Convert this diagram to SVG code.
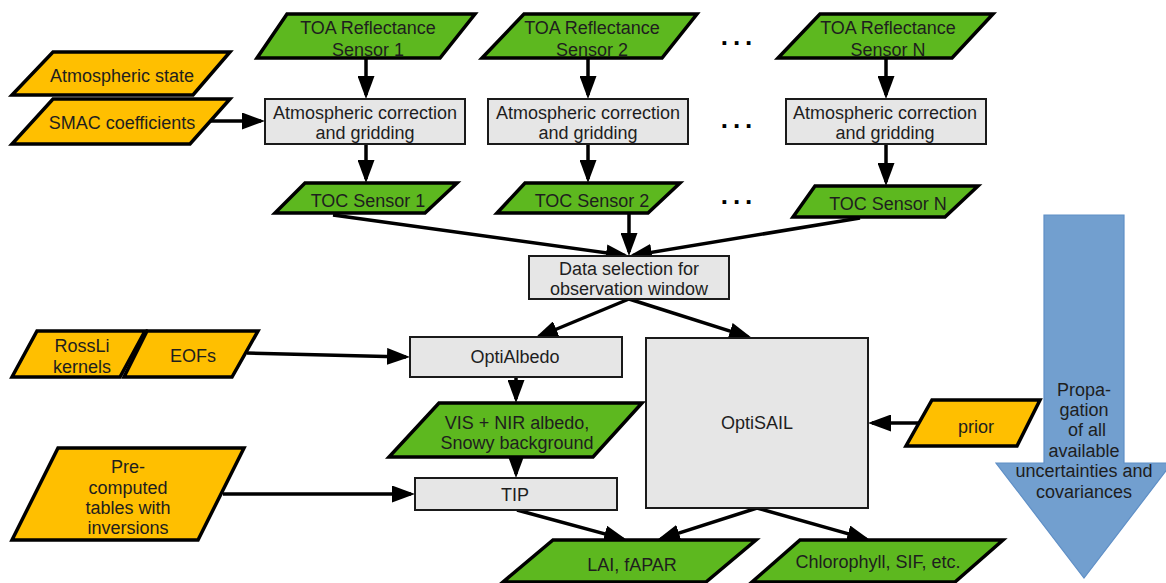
<svg xmlns="http://www.w3.org/2000/svg" width="1166" height="583" viewBox="0 0 1166 583">
<defs>
<style>
text{font-family:"Liberation Sans",Arial,sans-serif;font-size:18px;fill:#1e1e1e;text-anchor:middle}
.g{fill:#5db81f;stroke:#000;stroke-width:3.5;stroke-linejoin:miter}
.o{fill:#ffbf00;stroke:#000;stroke-width:3.5;stroke-linejoin:miter}
.b{fill:#e6e6e6;stroke:#1a1a1a;stroke-width:2}
.c{fill:none;stroke:#000;stroke-width:3.5}
.dots{font-weight:bold;font-size:26px;letter-spacing:5px;fill:#000}
</style>
<marker id="ah" markerUnits="userSpaceOnUse" markerWidth="23" markerHeight="17" refX="19" refY="8.5" orient="auto">
<path d="M0,0 L23,8.5 L0,17 z" fill="#000"/>
</marker>
</defs>
<rect width="1166" height="583" fill="#fff"/>

<g id="blue-arrow">
<polygon points="1044,215 1124,215 1124,463 1172,463 1084,578 996,463 1044,463" fill="#729fcf" stroke="#5f8fc6" stroke-width="1.2"/>
<text x="1084" y="396">Propa-</text>
<text x="1084" y="416">gation</text>
<text x="1087" y="436">of all</text>
<text x="1084" y="457">available</text>
<text x="1084" y="477">uncertainties and</text>
<text x="1084" y="498">covariances</text>
</g>

<g id="connectors">
<path class="c" marker-end="url(#ah)" d="M207,121 L261,121"/>
<path class="c" marker-end="url(#ah)" d="M366,58 L366,95"/>
<path class="c" marker-end="url(#ah)" d="M366,144 L366,179"/>
<path class="c" marker-end="url(#ah)" d="M588,58 L588,95"/>
<path class="c" marker-end="url(#ah)" d="M588,144 L588,179"/>
<path class="c" marker-end="url(#ah)" d="M886,58 L886,95"/>
<path class="c" marker-end="url(#ah)" d="M886,144 L886,182"/>
<path class="c" marker-end="url(#ah)" d="M333,215 L625,255.4"/>
<path class="c" marker-end="url(#ah)" d="M629,213 L629,252"/>
<path class="c" marker-end="url(#ah)" d="M860,218 L632.9,255.4"/>
<path class="c" marker-end="url(#ah)" d="M629,299 L538.7,336.5"/>
<path class="c" marker-end="url(#ah)" d="M629,299 L748.2,336.8"/>
<path class="c" marker-end="url(#ah)" d="M247,353 L406,356.9"/>
<path class="c" marker-end="url(#ah)" d="M516,377 L516,399"/>
<path class="c" marker-end="url(#ah)" d="M516,457 L516,474"/>
<path class="c" marker-end="url(#ah)" d="M223,494 L411,494"/>
<path class="c" marker-end="url(#ah)" d="M517,510 L623.1,538.9"/>
<path class="c" marker-end="url(#ah)" d="M757,508 L660.8,538.8"/>
<path class="c" marker-end="url(#ah)" d="M757,508 L866.2,538.9"/>
<path class="c" marker-end="url(#ah)" d="M919,423 L872,423"/>
</g>

<g id="atmospheric-state">
<polygon class="o" points="53,52 230,52 193,95 12,95"/>
<text x="122" y="82">Atmospheric state</text>
</g>
<g id="smac">
<polygon class="o" points="53,99 230,99 190,144 12,144"/>
<text x="122" y="129">SMAC coefficients</text>
</g>

<g id="toa1">
<polygon class="g" points="287,14 475,14 440,58 257,58"/>
<text x="368" y="34">TOA Reflectance</text>
<text x="368" y="56">Sensor 1</text>
</g>
<g id="toa2">
<polygon class="g" points="524,14 697,14 662,58 482,58"/>
<text x="592" y="34">TOA Reflectance</text>
<text x="592" y="56">Sensor 2</text>
</g>
<g id="toaN">
<polygon class="g" points="820,14 993,14 952,58 778,58"/>
<text x="888" y="34">TOA Reflectance</text>
<text x="888" y="56">Sensor N</text>
</g>

<g id="atm1">
<rect class="b" x="265" y="99" width="200" height="45"/>
<text x="365" y="119">Atmospheric correction</text>
<text x="365" y="139">and gridding</text>
</g>
<g id="atm2">
<rect class="b" x="488" y="99" width="200" height="45"/>
<text x="588" y="119">Atmospheric correction</text>
<text x="588" y="139">and gridding</text>
</g>
<g id="atmN">
<rect class="b" x="786" y="99" width="200" height="45"/>
<text x="885" y="119">Atmospheric correction</text>
<text x="885" y="139">and gridding</text>
</g>

<g id="toc1">
<polygon class="g" points="305,183 457,183 425,213 275,213"/>
<text x="368" y="207">TOC Sensor 1</text>
</g>
<g id="toc2">
<polygon class="g" points="525,183 680,183 648,213 497,213"/>
<text x="592" y="207">TOC Sensor 2</text>
</g>
<g id="tocN">
<polygon class="g" points="815,186 978,186 945,217 793,217"/>
<text x="888" y="210">TOC Sensor N</text>
</g>

<g id="ellipses">
<text class="dots" x="739" y="45">...</text>
<text class="dots" x="739" y="128">...</text>
<text class="dots" x="739" y="204">...</text>
</g>

<g id="data-selection">
<rect class="b" x="529" y="256" width="200" height="43"/>
<text x="629" y="275">Data selection for</text>
<text x="629" y="295">observation window</text>
</g>

<g id="rossli">
<polygon class="o" points="37,331 145,331 120,377 12,377"/>
<text x="82" y="352">RossLi</text>
<text x="82" y="373">kernels</text>
</g>
<g id="eofs">
<polygon class="o" points="147,331 258,331 232,377 124,377"/>
<text x="193" y="362">EOFs</text>
</g>

<g id="optialbedo">
<rect class="b" x="410" y="337" width="212" height="40"/>
<text x="515" y="363">OptiAlbedo</text>
</g>

<g id="optisail">
<rect class="b" x="646" y="338" width="222" height="170"/>
<text x="757" y="429">OptiSAIL</text>
</g>

<g id="vis-nir">
<polygon class="g" points="439,403 642,403 593,457 389,457"/>
<text x="517" y="429">VIS + NIR albedo,</text>
<text x="517" y="449">Snowy background</text>
</g>

<g id="prior">
<polygon class="o" points="932,400 1040,400 1017,446 906,446"/>
<text x="976" y="433">prior</text>
</g>

<g id="precomputed">
<polygon class="o" points="58,448 244,448 198,540 12,540"/>
<text x="128" y="473">Pre-</text>
<text x="128" y="494">computed</text>
<text x="128" y="514">tables with</text>
<text x="128" y="534">inversions</text>
</g>

<g id="tip">
<rect class="b" x="415" y="478" width="202" height="32"/>
<text x="515" y="501">TIP</text>
</g>

<g id="lai">
<polygon class="g" points="553,540 756,540 706,582 503,582"/>
<text x="632" y="571">LAI, fAPAR</text>
</g>
<g id="chlorophyll">
<polygon class="g" points="800,540 1003,540 955,582 752,582"/>
<text x="878" y="568">Chlorophyll, SIF, etc.</text>
</g>
</svg>
